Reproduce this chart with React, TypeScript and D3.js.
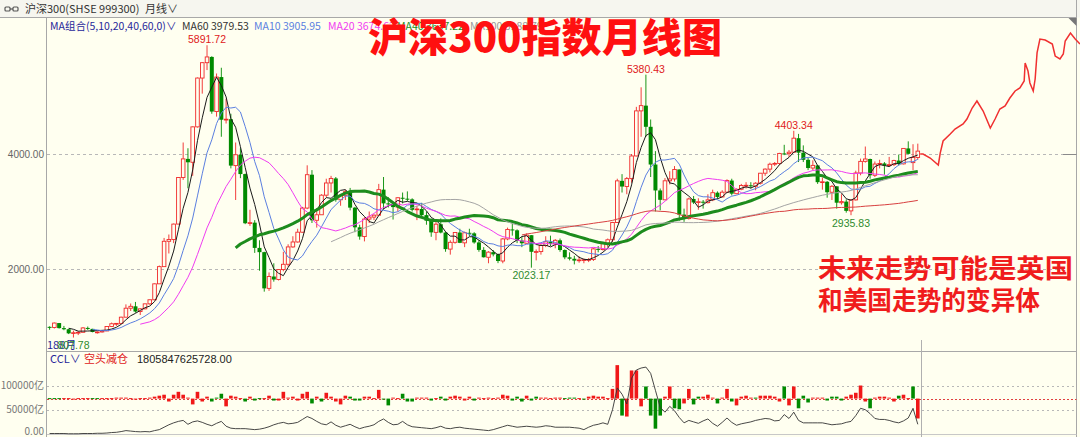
import React from "react";
import * as d3 from "d3";

// 沪深300 monthly bars, 2005-01 .. 2020-03
const OPEN = [
  994, 982, 1060, 972, 952, 881, 892, 899, 975, 959, 904, 905,
  923, 1000, 1048, 1054, 1162, 1318, 1351, 1260, 1307, 1394, 1465, 1742,
  2041, 2482, 2513, 2781, 3592, 3915, 3856, 4472, 5321, 5588, 5688, 4738,
  5338, 4596, 4605, 3798, 3987, 3651, 2796, 2806, 2367, 2293, 1663, 1869,
  1817, 1990, 2082, 2384, 2470, 2640, 3060, 3640, 2847, 2943, 3284, 3496,
  3575, 3204, 3281, 3345, 3067, 2725, 2564, 2868, 2903, 2936, 3380, 3141,
  3128, 3077, 3239, 3223, 3211, 3030, 3044, 2937, 2840, 2637, 2779, 2634,
  2346, 2464, 2634, 2455, 2630, 2620, 2462, 2332, 2204, 2293, 2254, 2139,
  2523, 2688, 2673, 2495, 2448, 2588, 2299, 2303, 2409, 2473, 2438, 2499,
  2330, 2203, 2178, 2146, 2158, 2161, 2165, 2350, 2338, 2450, 2508, 2808,
  3533, 3434, 3572, 3966, 4750, 4841, 4473, 3817, 3366, 3203, 3534, 3566,
  3731, 2946, 2877, 3218, 3157, 3170, 3154, 3203, 3327, 3253, 3336, 3538,
  3310, 3387, 3452, 3456, 3439, 3492, 3666, 3737, 3822, 3836, 4010, 4006,
  4031, 4275, 4023, 3899, 3756, 3802, 3510, 3517, 3335, 3438, 3153, 3172,
  3011, 3202, 3670, 3872, 3913, 3630, 3825, 3836, 3799, 3815, 3886, 3828,
  4097, 3850, 3940,
];
const HIGH = [
  1003, 1069, 1061, 1010, 960, 928, 918, 990, 1000, 960, 915, 935,
  1007, 1068, 1060, 1170, 1385, 1400, 1427, 1320, 1400, 1470, 1750, 2060,
  2540, 2600, 2790, 3600, 4200, 4100, 4480, 5330, 5600, 5891.72, 5700, 5400,
  5500, 4960, 4700, 4200, 4100, 3660, 3030, 2850, 2500, 2300, 1940, 2100,
  2000, 2300, 2430, 2570, 2700, 3080, 3803, 3720, 3060, 3300, 3570, 3620,
  3600, 3300, 3380, 3410, 3080, 2770, 2900, 3000, 2950, 3480, 3600, 3250,
  3150, 3250, 3330, 3350, 3230, 3100, 3150, 3000, 2880, 2860, 2880, 2650,
  2500, 2640, 2700, 2650, 2700, 2640, 2500, 2380, 2310, 2330, 2270, 2540,
  2720, 2790, 2690, 2560, 2620, 2590, 2340, 2450, 2570, 2580, 2520, 2530,
  2340, 2290, 2230, 2220, 2180, 2190, 2370, 2400, 2470, 2530, 2820, 3570,
  3650, 3600, 4000, 4820, 5160, 5380.43, 4600, 4050, 3400, 3580, 3700, 3790,
  3730, 3050, 3240, 3270, 3230, 3200, 3300, 3380, 3350, 3370, 3560, 3570,
  3400, 3480, 3510, 3510, 3510, 3670, 3750, 3850, 3860, 4020, 4160, 4070,
  4403.34, 4350, 4150, 3930, 3890, 3810, 3590, 3530, 3460, 3440, 3300, 3210,
  3210, 3710, 3920, 4130, 3920, 3870, 3900, 3860, 3950, 3900, 3990, 4100,
  4220, 4170, 4180,
];
const LOW = [
  943, 965, 964, 935, 868, 807.78, 851, 895, 940, 899, 876, 895,
  920, 995, 1010, 1050, 1160, 1270, 1240, 1200, 1300, 1380, 1460, 1740,
  2040, 2270, 2450, 2780, 3550, 3404, 3620, 4460, 5050, 5460, 4700, 4650,
  4300, 4530, 3750, 3200, 3580, 2780, 2750, 2280, 1970, 1606, 1620, 1780,
  1800, 1960, 2040, 2370, 2460, 2630, 3040, 2800, 2720, 2940, 3250, 3330,
  3170, 3100, 3200, 3020, 2640, 2510, 2480, 2800, 2850, 2930, 3040, 3070,
  2860, 3000, 3140, 3180, 3000, 2850, 2900, 2770, 2560, 2500, 2620, 2300,
  2250, 2440, 2450, 2380, 2570, 2440, 2300, 2200, 2100, 2220, 2102, 2100,
  2500, 2580, 2450, 2380, 2440, 2023.17, 2150, 2250, 2380, 2400, 2360, 2300,
  2170, 2150, 2080, 2110, 2100, 2120, 2140, 2290, 2320, 2380, 2470, 2800,
  3330, 3300, 3500, 3960, 4300, 4300, 3600, 3000, 3020, 3200, 3470, 3520,
  2840, 2820, 2860, 3130, 3030, 3050, 3140, 3180, 3220, 3250, 3320, 3280,
  3300, 3370, 3400, 3400, 3370, 3470, 3620, 3680, 3790, 3810, 3980, 3950,
  4030, 3860, 3860, 3720, 3720, 3480, 3380, 3240, 3200, 3050, 3120, 2980,
  2935.83, 3190, 3630, 3850, 3570, 3600, 3750, 3640, 3780, 3790, 3800, 3820,
  3990, 3720, 3900,
];
const CLOSE = [
  982, 1060, 972, 952, 881, 892, 899, 975, 959, 904, 905, 923,
  1000, 1048, 1054, 1162, 1318, 1351, 1260, 1307, 1394, 1465, 1742, 2041,
  2482, 2513, 2781, 3592, 3915, 3856, 4472, 5321, 5588, 5688, 4738, 5338,
  4596, 4605, 3798, 3987, 3651, 2796, 2806, 2367, 2293, 1663, 1869, 1817,
  1990, 2082, 2384, 2470, 2640, 3060, 3640, 2847, 2943, 3284, 3496, 3575,
  3204, 3281, 3345, 3067, 2725, 2564, 2868, 2903, 2936, 3380, 3141, 3128,
  3077, 3239, 3223, 3211, 3030, 3044, 2937, 2840, 2637, 2779, 2634, 2346,
  2464, 2634, 2455, 2630, 2620, 2462, 2332, 2204, 2293, 2254, 2139, 2523,
  2688, 2673, 2495, 2448, 2588, 2299, 2303, 2409, 2473, 2438, 2499, 2330,
  2203, 2178, 2146, 2158, 2161, 2165, 2350, 2338, 2450, 2508, 2808, 3533,
  3434, 3572, 3966, 4750, 4841, 4473, 3817, 3366, 3203, 3534, 3566, 3731,
  2946, 2877, 3218, 3157, 3170, 3154, 3203, 3327, 3253, 3336, 3538, 3310,
  3387, 3452, 3456, 3439, 3492, 3666, 3737, 3822, 3836, 4010, 4006, 4031,
  4275, 4023, 3899, 3756, 3802, 3510, 3517, 3335, 3438, 3153, 3172, 3011,
  3202, 3670, 3872, 3913, 3630, 3825, 3836, 3799, 3815, 3886, 3828, 4097,
  4003, 3940, 4050,
];

// CCL indicator, in 千亿 (1 = 1000亿)
const CCL_LINE = [
  1, 1, 1, 1, 0.5, 0.5, 0.5, 1, 1, 1,
  1.5, 1.5, 2, 3, 3.5, 5, 7, 6, 5, 4.5,
  5, 4.5, 7, 9, 14, 19, 23, 26, 28, 20,
  25, 27, 24, 20, 17, 22, 26, 16, 12, 11,
  11, 11, 10, 9, 10, 12, 15, 19, 22, 24,
  21, 22, 24, 30, 36, 32, 26, 21, 19, 25,
  18, 14, 17, 20, 15, 11, 14, 16, 19, 26,
  31, 24, 19, 20, 26, 19, 15, 14, 13, 12,
  11, 13, 16, 12, 11, 13, 14, 12, 11, 10,
  9, 8, 7, 9, 12, 15, 18, 16, 14, 15,
  16, 15, 14, 15, 17, 16, 14, 14, 14, 14,
  13, 12, 9, 14, 18, 20, 23, 20, 50, 95,
  82, 62, 115, 132, 136, 138, 125, 90, 55, 45,
  57, 48, 34, 23, 28, 25, 22, 27, 31, 22,
  16, 24, 33, 24, 18, 21, 23, 25, 28, 30,
  32, 31, 27, 28, 40, 32, 45, 28, 23, 23,
  23, 23, 23, 21, 19, 20, 21, 24, 26, 38,
  53, 50, 42, 32, 30, 30, 28, 25, 23, 27,
  33, 53, 20,
];
const CCL_BAR = [
  1, 1, 1, 1, 1, -1, 1, 1, 1, 1,
  1, 1, 1, 1, 2, 2, 2, 1, -1, 1,
  1, 2, 4, 6, 8, -6, 8, 14, 8, 2,
  -12, 14, -6, 4, -6, 2, 10, -16, 6, 4,
  1, -6, 4, -4, 1, 1, 6, -4, -4, 14,
  2, 4, -4, 10, 14, -10, 4, -6, 12, 4,
  -6, -12, 6, 4, -4, -4, 4, 4, 1, 18,
  -2, -14, 2, 1, 10, -6, -6, 2, 2, 2,
  -4, 1, 4, -4, 4, 6, 4, -4, 4, -4,
  2, 1, 2, 1, 2, 8, 6, -4, 4, -6,
  6, -4, 4, 2, 2, 1, 2, 2, 1, 2,
  2, 1, -2, 4, 6, 4, 4, 1, 20, 69,
  -35, -37, 58, 58, -16, 25, -35, -62, -35, 4,
  25, -20, -22, -10, 20, -12, 4, 4, 8, 2,
  -10, 2, 20, -6, -14, 4, 6, 2, 2, 6,
  6, 6, 4, -6, 25, -14, 25, -20, 6, -8,
  2, 2, 2, -4, 4, 4, -4, 4, 8, 12,
  27, -6, -20, 2, 4, 4, 2, -6, 6, 8,
  1, 25, -41,
];
// r = 红柱, g = 绿柱
const CCL_COLOR =
  "gggrrrrrrg" + "grrrrrrrrr" + "rrrrrrrrrr" + "rrrrgggrrr" + "rgrggrrgrr" +
  "rrrrrgrgrr" + "rrrgggrrrr" + "ggrrgggrrr" + "grggrrrrrg" + "rrrrrrrggg" +
  "rggrrrrrgg" + "grgrrrrrrr" + "grrrrggggr" + "rggrrggrrr" + "grrgrrrrgr" +
  "rrrrgrrggg" + "rrrggggrrr" + "rrgrrrrrgr" + "rgr";
const CCL_BASE = 73;

// projected path after the last bar: [month index, index level]
const FORECAST: [number, number][] = [
  [182.5, 4000], [183.1, 4000], [184.6, 3930], [186.3, 3809], [186.7, 4017],
  [187.3, 4226], [188.8, 4348], [189.8, 4435], [191.5, 4522], [192.3, 4609],
  [193.4, 4800], [194.4, 4922], [195.7, 4748], [197.2, 4452], [198.2, 4609],
  [199.2, 4783], [200.3, 4835], [201.3, 4974], [202.4, 5096], [203.4, 5148],
  [204.3, 5270], [204.5, 5583], [205.1, 5443], [205.5, 5235], [206.2, 5096],
  [206.6, 5304], [207.0, 5757], [207.6, 6000], [208.7, 5983], [210.2, 5913],
  [210.8, 5704], [211.8, 5652], [212.5, 5739], [212.9, 5965], [214.0, 6104],
  [215.0, 6000], [216.0, 5913],
];

const PRICE_TICKS = [2000, 4000];
const CCL_TICKS = [0, 50, 100];
const HIGH_MARKS = [33, 125, 156];
const LOW_MARKS = [5, 101, 168];

const MA_SPECS = [
  { n: 5, color: "#1a1a1a", width: 1 },
  { n: 10, color: "#5b7fe0", width: 1 },
  { n: 20, color: "#f03cf0", width: 1 },
  { n: 40, color: "#1d8c1d", width: 3 },
  { n: 60, color: "#a4a4a4", width: 1 },
  { n: 100, color: "#d84040", width: 1 },
];
const LEGEND = [
  { text: "MA组合(5,10,20,40,60,0)∨", color: "#27279a" },
  { text: "MA60 3979.53", color: "#333333" },
  { text: "MA10 3905.95", color: "#5b7fe0" },
  { text: "MA20 3674.62", color: "#f03cf0" },
  { text: "MA40 3637.22", color: "#1d8c1d" },
  { text: "MA100 3188.79", color: "#999999" },
];
const LEGEND_X = [50, 182, 254, 328, 397, 470];

const BG = "#fffff0";
const UP = "#f02828";
const DOWN = "#008a00";
const GRID = "#b8b8b8";
const NUM_FONT = "'Liberation Sans', Arial, sans-serif";
const CJK_FONT = "'Noto Sans CJK SC', 'Noto Sans', sans-serif";

function sma(values: number[], n: number): [number, number][] {
  const out: [number, number][] = [];
  for (let i = n - 1; i < values.length; i++) {
    out.push([i, d3.mean(values.slice(i - n + 1, i + 1)) as number]);
  }
  return out;
}

export default function App() {
  const last = CLOSE.length - 1;
  const x = d3.scaleLinear().domain([0, last]).range([49.6, 917.8]);
  const y = d3.scaleLinear().domain([2000, 4000]).range([269, 154]);
  const yc = d3.scaleLinear().domain([0, 100]).range([434, 385.5]);

  const priceLine = d3
    .line<[number, number]>()
    .x((d) => x(d[0]))
    .y((d) => y(d[1]));
  const cclLine = d3
    .line<number>()
    .x((_, i) => x(i))
    .y((d) => yc(d));

  const mas = MA_SPECS.map((s) => ({ ...s, pts: sma(CLOSE, s.n) }));
  const left = 47;
  const right = 1076.5;

  return (
    <>
      <style>{`body{margin:0;background:${BG}}svg{display:block}`}</style>
      <svg width={1080} height={437} viewBox="0 0 1080 437">
        <rect x={0} y={0} width={1080} height={437} fill={BG} />
        {/* header strip */}
        <rect x={0} y={0} width={1080} height={17.5} fill="#f6f6ef" />
        <line x1={0} x2={right} y1={17.5} y2={17.5} stroke="#a8a8a8" />
        <g fill="none" stroke="#555" strokeWidth={1.2}>
          <rect x={5} y={7} width={5} height={4} rx={1} />
          <rect x={13} y={7} width={5} height={4} rx={1} />
          <line x1={10} x2={13} y1={9} y2={9} />
        </g>
        <text x={25} y={13} fontSize={11} fontFamily={CJK_FONT} fill="#333">
          沪深300(SHSE 999300)
        </text>
        <text x={145} y={13} fontSize={11} fontFamily={CJK_FONT} fill="#333">
          月线∨
        </text>

        {/* frame */}
        <line x1={left - 0.5} x2={left - 0.5} y1={17.5} y2={437} stroke="#a8a8a8" />
        <line x1={right} x2={right} y1={0} y2={437} stroke="#a8a8a8" />
        <path d={`M${right - 8},18 L${right},18 L${right},26 Z`} fill="#777" />
        <line x1={left} x2={right} y1={351.5} y2={351.5} stroke="#a8a8a8" />
        <line x1={left} x2={right} y1={434.5} y2={434.5} stroke="#c8c8c8" />

        {/* price grid + axis labels */}
        {PRICE_TICKS.map((t) => (
          <g key={t}>
            <line
              x1={left}
              x2={1063}
              y1={Math.round(y(t)) + 0.5}
              y2={Math.round(y(t)) + 0.5}
              stroke={GRID}
              strokeDasharray="3,3"
            />
            <text
              x={44}
              y={y(t) + 3.5}
              textAnchor="end"
              fontSize={10}
              fontFamily={NUM_FONT}
              fill="#666"
            >
              {t.toFixed(2)}
            </text>
          </g>
        ))}
        <line x1={1063} x2={right} y1={Math.round(y(4000)) + 0.5} y2={Math.round(y(4000)) + 0.5} stroke="#8a8a8a" />

        {/* candles */}
        {CLOSE.map((c, i) => {
          const o = OPEN[i];
          const up = c >= o;
          const cx = x(i);
          const top = y(Math.max(o, c));
          const bot = y(Math.min(o, c));
          if (up) {
            return (
              <g key={i} stroke={UP} strokeWidth={0.9}>
                <line x1={cx} x2={cx} y1={y(HIGH[i])} y2={top} />
                <line x1={cx} x2={cx} y1={bot} y2={y(LOW[i])} />
                <rect x={cx - 1.8} y={top} width={3.6} height={Math.max(bot - top, 0.8)} fill={BG} />
              </g>
            );
          }
          return (
            <g key={i}>
              <line x1={cx} x2={cx} y1={y(HIGH[i])} y2={y(LOW[i])} stroke={DOWN} strokeWidth={0.9} />
              <rect x={cx - 2} y={top} width={4} height={Math.max(bot - top, 1)} fill={DOWN} />
            </g>
          );
        })}

        {/* moving averages */}
        {mas.map((m) => (
          <path
            key={m.n}
            d={priceLine(m.pts) || ""}
            fill="none"
            stroke={m.color}
            strokeWidth={m.width}
            strokeLinejoin="round"
          />
        ))}

        {/* projected path */}
        <path d={priceLine(FORECAST) || ""} fill="none" stroke="#f03030" strokeWidth={1.5} />

        {/* extreme labels */}
        {HIGH_MARKS.map((i) => (
          <text
            key={i}
            x={x(i)}
            y={y(HIGH[i]) - 2}
            textAnchor="middle"
            fontSize={10.5}
            fontFamily={NUM_FONT}
            fill="#e02020"
          >
            {HIGH[i].toFixed(2)}
          </text>
        ))}
        <text x={47} y={349} fontSize={11} fontFamily={CJK_FONT} fill="#27279a">
          188月
        </text>
        {LOW_MARKS.map((i) => (
          <text
            key={i}
            x={x(i)}
            y={y(LOW[i]) + 11.5}
            textAnchor="middle"
            fontSize={10.5}
            fontFamily={NUM_FONT}
            fill="#2e8b2e"
          >
            {LOW[i].toFixed(2)}
          </text>
        ))}

        {/* legend */}
        {LEGEND.map((l, k) => (
          <text key={k} x={LEGEND_X[k]} y={30} fontSize={10.5} fontFamily={CJK_FONT} fill={l.color}>
            {l.text}
          </text>
        ))}

        {/* CCL panel */}
        <text x={50} y={363} fontSize={11} fontFamily={CJK_FONT} fill="#27279a">
          CCL∨
        </text>
        <text x={84} y={363} fontSize={11} fontFamily={CJK_FONT} fill="#e02020">
          空头减仓
        </text>
        <text x={137} y={363} fontSize={11} fontFamily={NUM_FONT} fill="#222">
          1805847625728.00
        </text>
        {CCL_TICKS.map((t) => (
          <g key={t}>
            {t > 0 && (
              <line
                x1={left}
                x2={right}
                y1={Math.round(yc(t)) + 0.5}
                y2={Math.round(yc(t)) + 0.5}
                stroke={GRID}
                strokeDasharray="2,3"
              />
            )}
            <text
              x={44}
              y={yc(t) + (t === 0 ? 1 : 3.5)}
              textAnchor="end"
              fontSize={10}
              fontFamily={CJK_FONT}
              fill="#777"
            >
              {t === 0 ? "0.00" : `${t * 1000}亿`}
            </text>
          </g>
        ))}
        <line
          x1={left}
          x2={right}
          y1={Math.round(yc(CCL_BASE)) + 0.5}
          y2={Math.round(yc(CCL_BASE)) + 0.5}
          stroke="#e04040"
          strokeDasharray="2,2"
        />
        {CCL_BAR.map((v, i) => {
          const y0 = yc(CCL_BASE);
          const y1 = yc(CCL_BASE + v);
          const top = Math.min(y0, y1);
          const h = Math.max(Math.abs(y1 - y0), 1);
          return (
            <rect
              key={i}
              x={x(i) - 1.8}
              y={top}
              width={3.6}
              height={h}
              fill={CCL_COLOR[i] === "g" ? DOWN : "#f01818"}
            />
          );
        })}
        <path d={cclLine(CCL_LINE) || ""} fill="none" stroke="#333" strokeWidth={0.9} />
        <line x1={921.5} x2={921.5} y1={340} y2={437} stroke="#b0b0b0" />

        {/* titles */}
        <text
          x={368}
          y={52}
          fontSize={40}
          fontWeight={900}
          fontFamily={CJK_FONT}
          fill="#ff1010"
          textLength={354}
          lengthAdjust="spacingAndGlyphs"
        >
          沪深300指数月线图
        </text>
        <text x={818} y={278} fontSize={26} fontWeight={700} fontFamily={CJK_FONT} fill="#f01c1c" textLength={255} lengthAdjust="spacingAndGlyphs">
          未来走势可能是英国
        </text>
        <text x={818} y={310} fontSize={26} fontWeight={700} fontFamily={CJK_FONT} fill="#f01c1c" textLength={222} lengthAdjust="spacingAndGlyphs">
          和美国走势的变异体
        </text>
      </svg>
    </>
  );
}
